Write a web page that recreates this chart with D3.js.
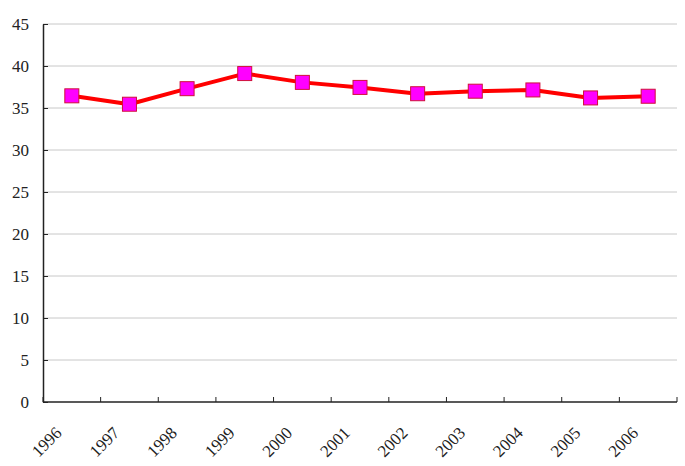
<!DOCTYPE html>
<html>
<head>
<meta charset="utf-8">
<script src="https://cdn.jsdelivr.net/npm/d3@7"></script>
<style>
  body { margin: 0; background: #fff; }
</style>
</head>
<body>
<div id="chart"></div>
<script>
const years = ["1996", "1997", "1998", "1999", "2000", "2001", "2002", "2003", "2004", "2005", "2006"];
const values = [36.45, 35.45, 37.3, 39.1, 38.05, 37.45, 36.7, 37.0, 37.15, 36.2, 36.4];
const yTicks = [0, 5, 10, 15, 20, 25, 30, 35, 40, 45];

const width = 685, height = 466;
const margin = {top: 24, right: 8, bottom: 64, left: 43};
const innerW = width - margin.left - margin.right;
const innerH = height - margin.top - margin.bottom;
const fontFam = "'Liberation Serif', 'DejaVu Serif', serif";

const svg = d3.select("#chart")
    .append("svg")
    .attr("width", width)
    .attr("height", height);

const g = svg.append("g")
    .attr("transform", `translate(${margin.left},${margin.top})`);

const x = d3.scaleBand().domain(years).range([0, innerW]);
const y = d3.scaleLinear().domain([0, 45]).range([innerH, 0]);

// gridlines
g.append("g")
    .selectAll("line")
    .data(yTicks.filter(d => d > 0))
    .enter()
    .append("line")
    .attr("x1", 0)
    .attr("x2", innerW)
    .attr("y1", d => y(d))
    .attr("y2", d => y(d))
    .style("stroke", "#c8c8c8")
    .style("stroke-width", 1);

// y axis
const yAxis = g.append("g")
    .attr("font-family", fontFam)
    .call(d3.axisLeft(y).tickValues(yTicks).tickSizeInner(-5).tickSizeOuter(0).tickPadding(14));
yAxis.select(".domain").style("stroke", "#222").style("stroke-width", 1.5);
yAxis.selectAll(".tick line").style("stroke", "#222");
yAxis.selectAll("text")
    .style("font-family", fontFam)
    .style("font-size", "17px")
    .style("fill", "#222");

// x axis with ticks at band boundaries
const xAxis = g.append("g")
    .attr("transform", `translate(0,${innerH})`);
xAxis.append("line")
    .attr("x1", 0).attr("x2", innerW)
    .style("stroke", "#222").style("stroke-width", 1.5);
xAxis.selectAll(".xtick")
    .data(years.concat(["end"]))
    .enter()
    .append("line")
    .attr("class", "xtick")
    .attr("x1", (d, i) => i * x.step())
    .attr("x2", (d, i) => i * x.step())
    .attr("y1", 0).attr("y2", -5)
    .style("stroke", "#222");
xAxis.selectAll(".xlabel")
    .data(years)
    .enter()
    .append("text")
    .attr("class", "xlabel")
    .attr("text-anchor", "end")
    .attr("transform", d => `translate(${x(d) + x.bandwidth() / 2 - 9},${32}) rotate(-45)`)
    .style("font-family", fontFam)
    .style("font-size", "17px")
    .style("fill", "#222")
    .text(d => d);

// line
const line = d3.line()
    .x((d, i) => x(years[i]) + x.bandwidth() / 2)
    .y(d => y(d));

g.append("path")
    .datum(values)
    .attr("d", line)
    .style("fill", "none")
    .style("stroke", "#ff0000")
    .style("stroke-width", 4)
    .style("stroke-linejoin", "round");

// markers
const size = 14;
g.selectAll(".marker")
    .data(values)
    .enter()
    .append("rect")
    .attr("class", "marker")
    .attr("x", (d, i) => x(years[i]) + x.bandwidth() / 2 - size / 2)
    .attr("y", d => y(d) - size / 2)
    .attr("width", size)
    .attr("height", size)
    .style("fill", "#ff00ff")
    .style("stroke", "#d0103a")
    .style("stroke-width", 1);
</script>
</body>
</html>
